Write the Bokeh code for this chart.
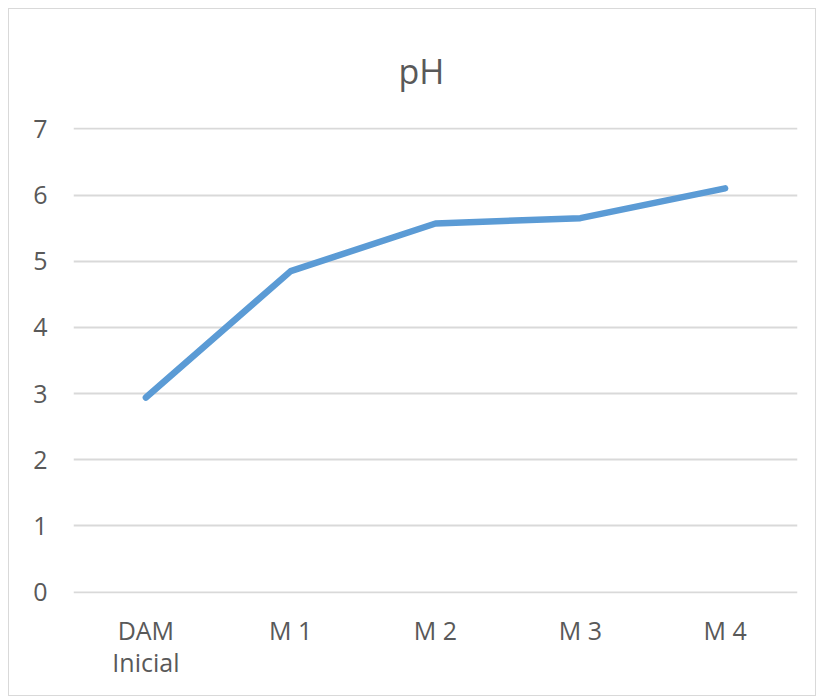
from bokeh.plotting import figure
from bokeh.models import FixedTicker, Title
from bokeh.embed import file_html
from bokeh.resources import INLINE

categories = ["DAM\nInicial", "M 1", "M 2", "M 3", "M 4"]
ph_values = [2.94, 4.85, 5.57, 5.65, 6.10]
y_ticks = [0, 1, 2, 3, 4, 5, 6, 7]

TXT = "#595959"
FONT = "Open Sans"

p = figure(x_range=categories, y_range=(-0.02, 7.02), width=808, height=688,
           output_backend="svg", toolbar_location=None,
           min_border_left=64, min_border_right=20, min_border_top=118,
           min_border_bottom=104)
p.margin = (8, 0, 0, 8)
p.styles = {"border": "1px solid #d9d9d9", "box-sizing": "border-box"}

t = Title(text="pH", align="left", text_font=FONT, text_font_size="34px",
          text_font_style="normal", text_color=TXT, standoff=68, offset=325)
p.add_layout(t, "above")
p.title.visible = False

p.line(x=categories, y=ph_values, line_color="#5b9bd5", line_width=6.5,
       line_cap="round", line_join="round")

p.outline_line_color = None
p.xgrid.grid_line_color = None
p.ygrid.grid_line_color = "#d9d9d9"
p.ygrid.grid_line_width = 2
p.yaxis.ticker = FixedTicker(ticks=y_ticks)
for ax in (p.xaxis, p.yaxis):
    ax.axis_line_color = None
    ax.major_tick_line_color = None
    ax.minor_tick_line_color = None
    ax.major_label_text_font = FONT
    ax.major_label_text_font_size = "25px"
    ax.major_label_text_color = TXT
p.xaxis.major_label_text_line_height = 0.95
p.yaxis.major_label_standoff = 20
p.xaxis.major_label_standoff = 13

open("out.html", "w").write(file_html(p, INLINE))
